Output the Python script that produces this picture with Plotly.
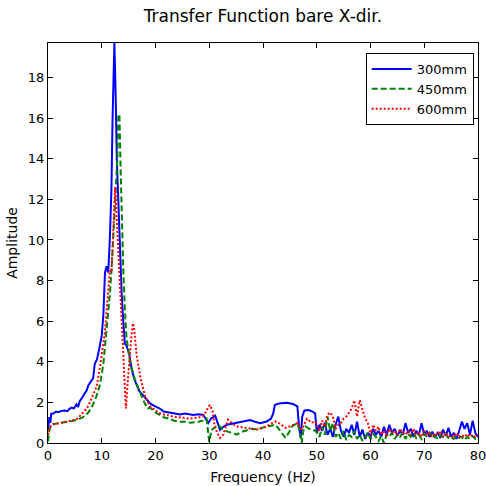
import plotly.graph_objects as go

title_text = "Transfer Function bare X-dir."
series_names = ["300mm", "450mm", "600mm"]

# ---- 300mm (blue) ----
f300_head = [0, 0.1, 0.25, 0.45, 0.6, 1.0, 1.5, 1.9, 2.5, 3.1, 3.6, 4.0, 4.4, 4.8, 5.0, 5.3, 5.6, 5.9,
             6.4, 6.9, 7.2, 7.5, 8.1, 8.4, 8.7,
             9.1, 9.5, 10.0, 10.3, 10.6, 10.9, 11.2, 11.5, 11.8, 12.0, 12.2, 12.35, 12.6, 12.8, 13.1,
             13.4, 13.7, 14.0, 14.3, 14.6, 15.1, 15.5, 16.0, 16.4, 17.0, 18.0, 19.0, 19.6, 20.8, 21.5,
             22.5, 23.5, 24.6, 25.5, 27.0, 28.0, 28.9, 29.8, 30.3, 31.1, 31.6, 32.0, 32.6, 33.3, 34.2,
             35.1, 36.2, 37.6, 38.5, 39.5, 40.7, 41.5, 41.9, 42.2, 43.0, 44.4, 45.6, 46.4, 46.7, 47.0,
             47.3, 47.7, 48.5, 49.2, 49.7]
a300_head = [0.6, 0.86, 1.27, 1.0, 1.44, 1.45, 1.55, 1.52, 1.58, 1.6, 1.57, 1.68, 1.74, 1.7, 1.8, 1.9,
             1.77, 2.06, 2.25, 2.5, 2.6, 2.84, 3.09, 3.2, 3.9, 4.1, 4.6, 5.3, 6.3, 8.4, 8.7, 8.4,
             10.0, 12.5, 15.8, 18.5, 19.7, 17.0, 14.0,
             11.8, 9.5, 7.4, 6.0, 4.9, 4.8, 4.4, 3.74, 3.2, 2.93, 2.55, 2.26, 1.95, 1.85, 1.7, 1.55,
             1.5, 1.45, 1.4, 1.45, 1.38, 1.42, 1.38, 0.98, 1.2, 1.35, 1.0, 0.64, 0.8, 0.9, 0.95, 1.0,
             1.05, 1.13, 1.05, 0.98, 1.06, 1.2, 1.46, 1.87, 1.95, 1.98, 1.92, 1.8, 0.82, 0.25, 1.3,
             1.6, 1.62, 1.55, 1.46]
a300_tail = [0.5, 0.9, 0.6, 1.0, 0.4, 0.7, 0.3, 0.9, 1.3, 0.6, 0.3, 0.7, 0.5, 0.9, 0.4, 1.05, 0.3,
             0.66, 0.2, 0.5, 0.3, 0.7, 0.4, 0.6, 0.3, 0.8, 0.4, 0.9, 0.5, 0.7, 0.35, 0.6, 0.4, 0.98,
             0.5, 0.7, 0.3, 0.6, 0.4, 0.98, 0.4, 0.6, 0.3, 0.55, 0.3, 0.5, 0.25, 0.66, 0.35, 0.75, 0.3,
             0.5, 0.2, 0.6, 1.05, 0.7, 0.98, 0.4, 1.1, 0.5, 0.3]

# ---- 450mm (green) ----
f450_head = [0, 0.1, 0.3, 0.6, 1.0, 1.6, 2.5, 3.5, 4.5, 5.5, 6.6, 7.5, 8.4, 9.0, 9.7, 10.3, 10.9,
             11.5, 11.8, 12.2, 12.5, 12.7, 12.9, 13.1, 13.3, 13.5, 13.7, 14.0, 14.3, 14.6, 15.3, 16.2,
             17.2, 18.1, 18.6, 19.0, 20.0, 20.8, 21.5, 22.5, 23.5, 24.5, 25.5, 26.5, 27.7, 28.8, 29.5,
             30.0, 30.4, 31.0, 31.6, 32.4, 33.3, 34.2, 35.1, 36.0, 37.0, 38.0, 38.9, 39.8, 40.7, 41.5,
             42.3, 43.2, 44.2, 44.8, 45.4, 46.4, 46.9, 47.2, 47.5, 47.9, 48.6, 49.3]
a450_head = [0.08, 0.4, 0.7, 0.85, 0.94, 0.96, 1.0, 1.02, 1.08, 1.15, 1.28, 1.5, 1.9, 2.3, 2.9, 3.9,
             5.5, 7.3, 8.4, 10.5, 11.4, 12.6, 14.0, 16.2, 16.1, 13.6, 11.4, 8.6, 6.6, 5.2, 3.9, 3.1,
             2.44, 1.9, 1.7, 1.75, 1.5, 1.38, 1.27, 1.2, 1.1, 1.05, 1.05, 1.0, 1.03, 1.1, 1.2, 0.06,
             0.64, 0.75, 0.9, 0.7, 0.57, 0.5, 0.41, 0.55, 0.64, 0.7, 0.67, 0.75, 0.82, 0.85, 0.9, 0.6,
             0.25, 0.5, 0.82, 0.98, 0.5, 0.0, 0.6, 0.82, 0.7, 0.65]
a450_tail = [0.55, 0.3, 0.8, 0.4, 1.3, 0.6, 0.98, 0.3, 0.5, 0.2, 0.6, 0.15, 0.4, 0.3, 0.6, 0.2, 0.4,
             0.1, 0.3, 0.5, 0.2, 0.45, 0.3, 0.1, 0.35, 0.0, 0.4, 0.3, 0.5, 0.2, 0.4, 0.3, 0.5, 0.2,
             0.45, 0.3, 0.5, 0.25, 0.4, 0.2, 0.45, 0.3, 0.5, 0.25, 0.35, 0.2, 0.4, 0.3, 0.45, 0.25, 0.3,
             0.2, 0.35, 0.25, 0.3, 0.15, 0.3, 0.2, 0.35, 0.2, 0.3]

# ---- 600mm (red) ----
f600_head = [0, 0.1, 0.3, 0.6, 1.0, 1.6, 2.5, 3.5, 4.5, 5.3, 6.0, 7.2, 7.8, 8.5, 9.06, 9.7, 10.3,
             10.6, 11.0, 11.2, 11.5, 11.8, 12.0, 12.2, 12.5, 12.7, 13.0, 13.3, 13.6, 13.9, 14.2, 14.5,
             14.8, 15.2, 15.5, 15.8, 16.0, 16.5, 17.2, 18.1, 19.0, 20.0, 20.9, 22.0, 23.4, 25.0, 26.5,
             28.0, 29.0, 29.5, 30.1, 30.6, 31.0, 31.5, 32.0, 32.6, 33.5, 34.3, 35.1, 36.0, 37.0, 38.0,
             38.9, 39.8, 40.7, 41.5, 42.3, 43.2, 44.2, 45.3, 46.4, 47.2, 48.2, 49.0, 49.7]
a600_head = [0.4, 0.6, 0.75, 0.85, 0.92, 0.95, 1.0, 1.03, 1.08, 1.16, 1.35, 1.7, 2.0, 2.4, 2.8, 3.8,
             5.1, 5.5, 6.8, 7.4, 8.5, 8.4, 9.6, 11.0, 12.6, 11.5, 10.0, 8.4, 6.8, 5.0, 3.3, 1.7, 2.9,
             4.3, 5.2, 5.9, 5.7, 4.3, 3.2, 2.26, 1.8, 1.6, 1.45, 1.38, 1.3, 1.25, 1.2, 1.25, 1.35, 1.6,
             1.87, 1.6, 0.82, 0.5, 0.25, 0.41, 1.15, 0.95, 0.82, 0.78, 0.74, 0.7, 0.66, 0.72, 0.82,
             0.95, 1.06, 0.95, 0.74, 0.85, 0.98, 0.66, 1.2, 1.0, 1.06]
a600_tail = [0.9, 0.6, 1.1, 0.8, 1.4, 1.5, 1.3, 0.7, 0.9, 1.0, 1.2, 1.3, 1.5, 1.7, 2.1, 1.3, 2.1, 1.6,
             1.2, 1.0, 0.4, 0.9, 0.6, 0.8, 0.4, 0.6, 0.3, 0.7, 0.5, 0.6, 0.4, 0.7, 0.5, 0.4, 0.6, 0.4,
             0.7, 0.4, 0.5, 0.3, 0.6, 0.4, 0.5, 0.3, 0.5, 0.4, 0.6, 0.3, 0.5, 0.3, 0.4, 0.3, 0.5, 0.3,
             0.4, 0.3, 0.45, 0.3, 0.4, 0.3, 0.4]

f_tail = [50.0 + 0.5 * i for i in range(61)]

x_ticks = [0, 10, 20, 30, 40, 50, 60, 70, 80]
y_ticks = [0, 2, 4, 6, 8, 10, 12, 14, 16, 18]

FONT = "DejaVu Sans"

fig = go.Figure()
fig.add_trace(go.Scatter(x=f300_head + f_tail, y=a300_head + a300_tail, mode="lines",
                         name=series_names[0], line=dict(color="#0000FF", width=2)))
fig.add_trace(go.Scatter(x=f450_head + f_tail, y=a450_head + a450_tail, mode="lines",
                         name=series_names[1], line=dict(color="#008000", width=2, dash="6px,3px")))
fig.add_trace(go.Scatter(x=f600_head + f_tail, y=a600_head + a600_tail, mode="lines",
                         name=series_names[2], line=dict(color="#FF0000", width=2, dash="2px,2px")))

fig.update_layout(
    template="none",
    width=486, height=486,
    margin=dict(l=48, r=8, t=43, b=43, autoexpand=False),
    paper_bgcolor="white", plot_bgcolor="white",
    font=dict(family=FONT, size=12, color="black"),
    title=dict(text=title_text, x=0.541, xanchor="center", y=0.968, yanchor="middle",
               font=dict(family=FONT, size=17, color="black")),
    showlegend=True,
    legend=dict(x=0.99, xanchor="right", y=0.975, yanchor="top",
                bgcolor="white", bordercolor="black", borderwidth=1,
                font=dict(family=FONT, size=13), itemwidth=40, tracegroupgap=0),
)
fig.update_xaxes(range=[0, 80], tickvals=x_ticks, ticks="inside", ticklen=5, tickcolor="black",
                 showline=True, linecolor="black", linewidth=1, mirror="ticks", showgrid=False,
                 zeroline=False, automargin=False, ticklabeloverflow="allow",
                 title=dict(text="Frequency (Hz)", standoff=10),
                 tickfont=dict(size=13))
fig.update_yaxes(range=[0, 19.7], tickvals=y_ticks, ticks="inside", ticklen=5, tickcolor="black",
                 showline=True, linecolor="black", linewidth=1, mirror="ticks", showgrid=False,
                 zeroline=False, automargin=False, ticklabeloverflow="allow",
                 title=dict(text="Amplitude", standoff=6),
                 tickfont=dict(size=13))

fig.write_html("out.html")
